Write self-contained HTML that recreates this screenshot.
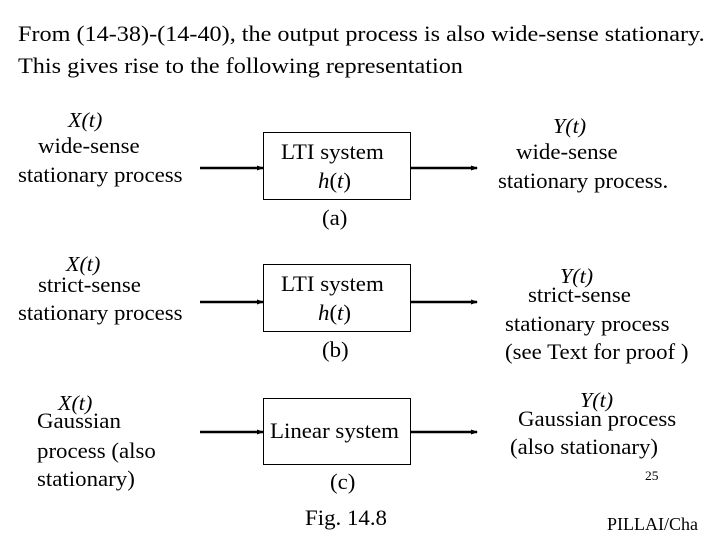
<!DOCTYPE html>
<html><head><style>
body{margin:0;width:720px;height:540px;background:#fff;position:relative;overflow:hidden;font-family:"Liberation Serif",serif;color:#000}
.t{position:absolute;white-space:nowrap;font-size:22px;line-height:24px;transform-origin:left center;transform:scaleX(1.04)}
.v{position:absolute;white-space:nowrap;font-size:21px;line-height:24px;font-style:italic;transform-origin:left center;transform:scaleX(1.05)}
.box{position:absolute;left:263px;width:146px;border:1px solid #000}
</style></head><body>
<div class="t" style="left:18px;top:22px;transform:scaleX(1.1)">From (14-38)-(14-40), the output process is also wide-sense stationary.</div>
<div class="t" style="left:18px;top:54px;transform:scaleX(1.1)">This gives rise to the following representation</div>

<svg width="720" height="540" style="position:absolute;left:0;top:0">
<defs><marker id="a" markerWidth="7" markerHeight="7" refX="6" refY="3.5" orient="auto" markerUnits="userSpaceOnUse"><path d="M0,1 L7,3.5 L0,6z" fill="#000"/></marker></defs>
<g stroke="#000" stroke-width="2.5" marker-end="url(#a)">
<line x1="200" y1="168" x2="263" y2="168"/><line x1="410" y1="168" x2="477" y2="168"/>
<line x1="200" y1="302" x2="263" y2="302"/><line x1="410" y1="302" x2="477" y2="302"/>
<line x1="200" y1="432" x2="263" y2="432"/><line x1="410" y1="432" x2="477" y2="432"/>
</g></svg>

<div class="box" style="top:132px;height:66px"></div>
<div class="box" style="top:264px;height:66px"></div>
<div class="box" style="top:398px;height:65px"></div>

<!-- row a -->
<div class="v" style="left:68px;top:108px">X(t)</div>
<div class="t" style="left:38px;top:134px">wide-sense</div>
<div class="t" style="left:18px;top:163px">stationary process</div>
<div class="t" style="left:281px;top:140px">LTI system</div>
<div class="t" style="left:318px;top:169px"><i>h</i>(<i>t</i>)</div>
<div class="t" style="left:322px;top:206px">(a)</div>
<div class="v" style="left:553px;top:114px">Y(t)</div>
<div class="t" style="left:516px;top:140px">wide-sense</div>
<div class="t" style="left:498px;top:169px">stationary process.</div>

<!-- row b -->
<div class="v" style="left:66px;top:252px">X(t)</div>
<div class="t" style="left:38px;top:273px">strict-sense</div>
<div class="t" style="left:18px;top:301px">stationary process</div>
<div class="t" style="left:281px;top:272px">LTI system</div>
<div class="t" style="left:318px;top:301px"><i>h</i>(<i>t</i>)</div>
<div class="t" style="left:322px;top:338px">(b)</div>
<div class="v" style="left:560px;top:264px">Y(t)</div>
<div class="t" style="left:528px;top:283px">strict-sense</div>
<div class="t" style="left:505px;top:312px">stationary process</div>
<div class="t" style="left:505px;top:340px">(see Text for proof )</div>

<!-- row c -->
<div class="v" style="left:58px;top:391px">X(t)</div>
<div class="t" style="left:37px;top:409px">Gaussian</div>
<div class="t" style="left:37px;top:439px">process (also</div>
<div class="t" style="left:37px;top:467px">stationary)</div>
<div class="t" style="left:270px;top:419px">Linear system</div>
<div class="t" style="left:330px;top:470px">(c)</div>
<div class="t" style="left:305px;top:506px">Fig. 14.8</div>
<div class="v" style="left:580px;top:388px">Y(t)</div>
<div class="t" style="left:518px;top:407px">Gaussian process</div>
<div class="t" style="left:510px;top:435px">(also stationary)</div>
<div class="t" style="left:645px;top:467px;font-size:13px;line-height:18px">25</div>
<div class="t" style="left:607px;top:514px;font-size:18px;line-height:20px;transform:none">PILLAI/Cha</div>
</body></html>
